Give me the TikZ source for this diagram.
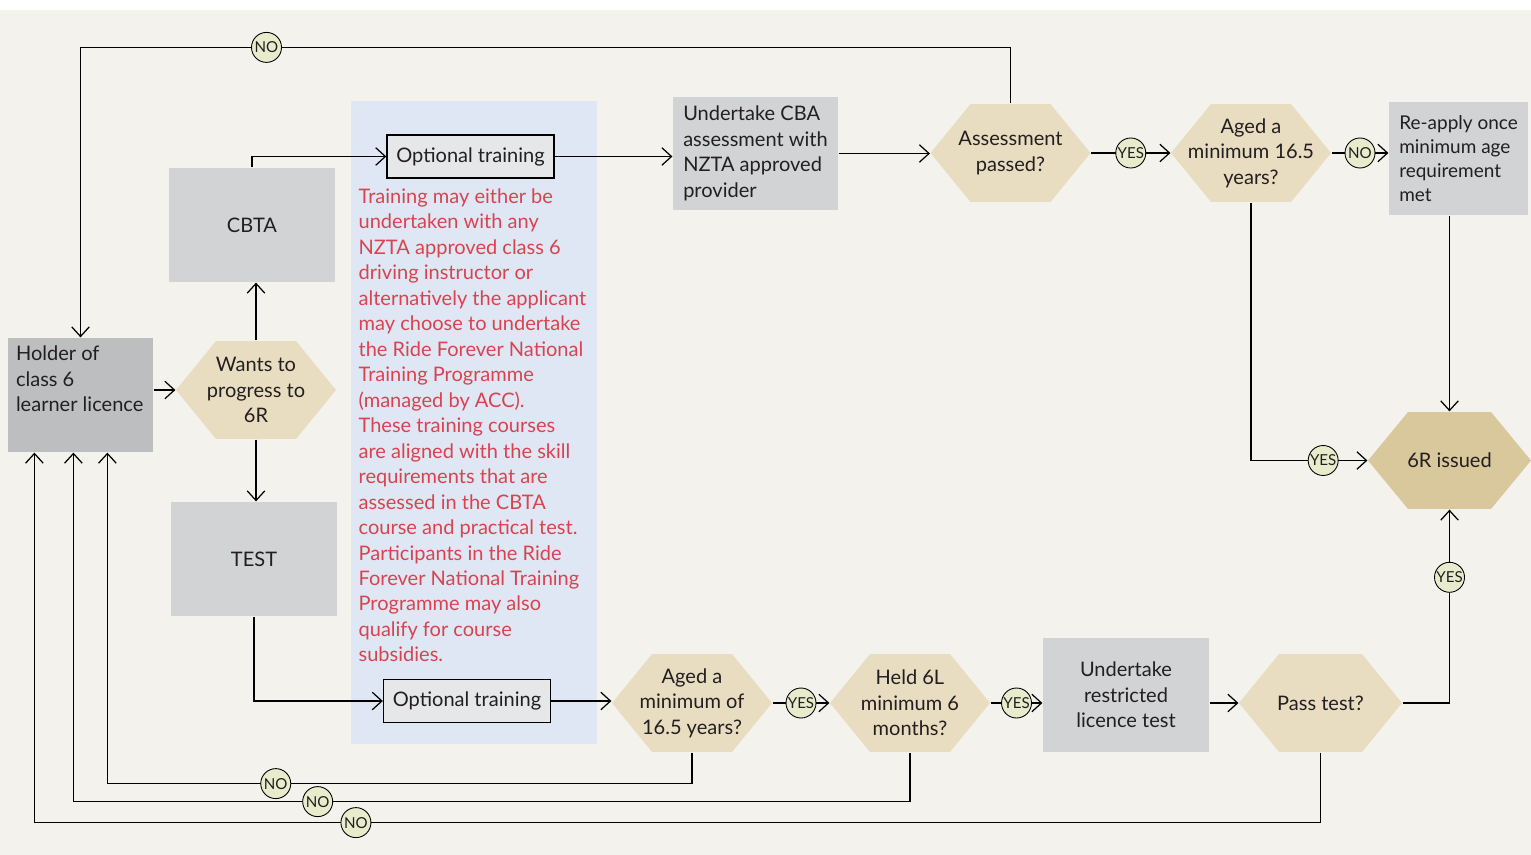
\documentclass[tikz,border=0pt]{standalone}
\usepackage{fontspec}
\setmainfont{Lato}
\usetikzlibrary{arrows.meta,calc}
\definecolor{bgcol}{HTML}{F3F2ED}
\definecolor{txtcol}{HTML}{231F20}
\definecolor{holdgray}{HTML}{BDBEC0}
\definecolor{boxgray}{HTML}{D1D3D4}
\definecolor{optgray}{HTML}{E6E7E8}
\definecolor{hexcol}{HTML}{E9DDC1}
\definecolor{issuecol}{HTML}{D9C89C}
\definecolor{panelcol}{HTML}{DFE7F5}
\definecolor{redcol}{HTML}{D9434F}
\definecolor{circcol}{HTML}{E8ECCC}

\begin{document}
\begin{tikzpicture}[x=0.02cm, y=-0.02cm, line width=0.7pt, >={Straight Barb[length=5.5pt,width=10pt]},
	every node/.style={font=\fontsize{11.4}{14.5}\selectfont, text=txtcol},
	graybox/.style={fill=boxgray, minimum width=3.32cm, minimum height=2.28cm, align=center, inner sep=0pt},
	optbox/.style={draw=black, line width=0.8pt, fill=optgray, minimum width=3.34cm, minimum height=0.86cm, inner sep=0pt},
	hexa/.style={minimum width=3.2cm, minimum height=1.96cm, align=center, inner sep=0pt,
		path picture={\fill[#1] (path picture bounding box.west) -- ([xshift=0.8cm]path picture bounding box.north west)
			-- ([xshift=-0.8cm]path picture bounding box.north east) -- (path picture bounding box.east)
			-- ([xshift=-0.8cm]path picture bounding box.south east) -- ([xshift=0.8cm]path picture bounding box.south west) -- cycle;}},
	hexa/.default=hexcol,
	yesno/.style={circle, draw=black, line width=0.5pt, fill=circcol, minimum size=0.6cm, inner sep=0pt, font=\fontsize{8.6}{9}\selectfont}
	]

\fill[white] (0,0) rectangle (1531,855);
\fill[bgcol] (0,10) rectangle (1531,855);
\useasboundingbox (0,0) rectangle (1531,855);

\node[fill=panelcol, minimum width=4.92cm, minimum height=12.86cm, inner sep=0pt] (panel) at (474,422.5) {};

\node[fill=holdgray, minimum width=2.9cm, minimum height=2.28cm, inner sep=0pt,
	label={[anchor=north west, align=left, inner sep=0.16cm]north west:Holder of\\class 6\\learner licence}] (holder) at (80.5,395) {};
\node[hexa] (wants) at (256,390) {Wants to\\progress to\\6R};
\node[graybox] (cbta) at (252,225) {CBTA};
\node[graybox] (test) at (254,559) {TEST};
\node[optbox] (optT) at (470.5,156.5) {Optional training};
\node[optbox] (optB) at (467,701) {Optional training};
\node[anchor=north west, align=left, text=redcol, inner sep=0.14cm] (note) at (351,181) {Training may either be\\undertaken with any\\NZTA approved class 6\\driving instructor or\\alternatively the applicant\\may choose to undertake\\the Ride Forever National\\Training Programme\\(managed by ACC).\\These training courses\\are aligned with the skill\\requirements that are\\assessed in the CBTA\\course and practical test.\\Participants in the Ride\\Forever National Training\\Programme may also\\qualify for course\\subsidies.};
\node[graybox, minimum width=3.3cm, minimum height=2.26cm, align=left] (cba) at (755.5,153.5) {Undertake CBA\\assessment with\\NZTA approved\\provider};
\node[hexa] (assess) at (1010.5,153) {Assessment\\passed?};
\node[hexa] (agedT) at (1251,153) {Aged a\\minimum 16.5\\years?};
\node[graybox, minimum width=2.78cm, minimum height=2.26cm, align=left, font=\fontsize{10.8}{13.6}\selectfont] (reapply) at (1458.5,158.5) {Re-apply once\\minimum age\\requirement\\met};
\node[hexa=issuecol, minimum width=3.26cm, minimum height=1.94cm] (sixr) at (1449.5,460.5) {6R issued};
\node[hexa] (agedB) at (692,703) {Aged a\\minimum of\\16.5 years?};
\node[hexa] (held) at (910,703) {Held 6L\\minimum 6\\months?};
\node[graybox] (restr) at (1126,695) {Undertake\\restricted\\licence test};
\node[hexa, minimum width=3.26cm] (pass) at (1320.5,703) {Pass test?};

\draw[->] (holder.east |- wants.west) -- (wants.west);
\draw[->] (wants.north) -- (wants.north |- cbta.south);
\draw[->] (wants.south) -- (wants.south |- test.north);
\draw[->] (cbta.north) |- (optT.west);
\draw[->] (test.south) |- (optB.west);
\draw[->] (optT.east) -- (optT.east -| cba.west);
\draw[->] (cba.east) -- (cba.east -| assess.west);
\draw[->] (assess.east) -- node[yesno]{\makebox[0pt]{YES}} (agedT.west);
\draw[->] (agedT.east) -- node[yesno]{\makebox[0pt]{NO}} (agedT.east -| reapply.west);
\draw[->] (agedT.south) |- node[yesno, pos=0.81]{\makebox[0pt]{YES}} (sixr.west);
\draw[->] (reapply.south -| sixr.north) -- (sixr.north);
\draw[->] (assess.north) -- ++(0,-56) -| node[yesno, pos=0.4]{\makebox[0pt]{NO}} (holder.north);
\draw[->] (optB.east) -- (optB.east -| agedB.west);
\draw[->] (agedB.east) -- node[yesno]{\makebox[0pt]{YES}} (held.west);
\draw[->] (held.east) -- node[yesno]{\makebox[0pt]{YES}} (held.east -| restr.west);
\draw[->] (restr.east |- pass.west) -- (pass.west);
\draw[->] (pass.east) -| node[yesno, pos=0.825]{\makebox[0pt]{YES}} (sixr.south);
\draw[->] (agedB.south) -- ++(0,31) -| node[yesno, pos=0.356]{\makebox[0pt]{NO}} ($(holder.south west)+(100,0)$);
\draw[->] (held.south) -- ++(0,49) -| node[yesno, pos=0.354]{\makebox[0pt]{NO}} ($(holder.south west)+(66,0)$);
\draw[->] (pass.south) -- ++(0,70) -| node[yesno, pos=0.375]{\makebox[0pt]{NO}} ($(holder.south west)+(27,0)$);

\end{tikzpicture}
\end{document}
